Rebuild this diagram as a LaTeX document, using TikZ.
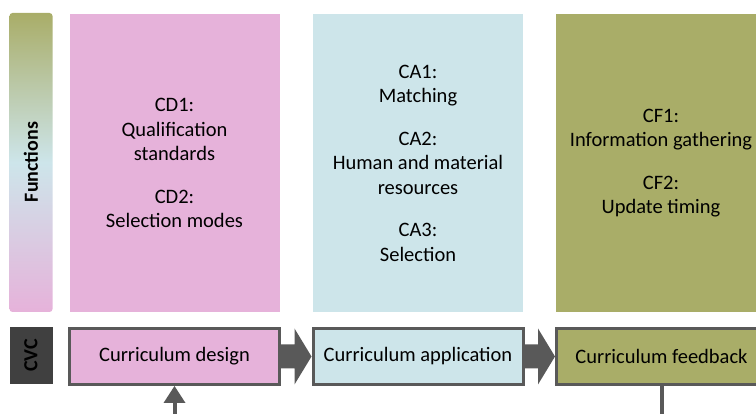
\documentclass[tikz,border=0pt]{standalone}
\usepackage{fontspec}
\setmainfont{Carlito}
\usetikzlibrary{calc}

\definecolor{cdpink}{RGB}{230,178,218}
\definecolor{cablue}{RGB}{205,229,234}
\definecolor{cfolive}{RGB}{169,173,104}
\definecolor{edgegray}{RGB}{89,89,89}
\definecolor{cvcgray}{RGB}{64,64,64}

\begin{document}
\begin{tikzpicture}[x=1pt, y=-1pt,
    column/.style={minimum width=210pt, minimum height=298pt, inner sep=0pt,
        align=center, font=\fontsize{20.5}{24.5}\selectfont},
    stage/.style={draw=edgegray, line width=3pt, minimum width=210pt,
        minimum height=56pt, inner sep=0pt, font=\fontsize{20.5}{24}\selectfont},
    sidelabel/.style={rotate=90, font=\fontsize{20}{22}\selectfont\bfseries},
    loopline/.style={edgegray, line width=4pt}]
    \useasboundingbox (0,0) rectangle (756,414);
    \clip (0,0) rectangle (756,414);

    % Side labels
    \shade[top color=cfolive, bottom color=cdpink, middle color=cablue, rounded corners=3pt]
        (9.5,13) rectangle (52.5,312);
    \node[sidelabel] (functions) at (31,162) {Functions};
    \fill[cvcgray] (9.5,327) rectangle (52.5,384);
    \node[sidelabel] (cvc) at (31,355.5) {CVC};

    % Function columns
    \node[column, fill=cdpink] (dcol) at (174.5,163)
        {CD1:\\Qualification\\standards\\[18pt]CD2:\\Selection modes};
    \node[column, fill=cablue] (acol) at (418,163)
        {CA1:\\Matching\\[18pt]CA2:\\Human and material\\resources\\[18pt]CA3:\\Selection};
    \node[column, fill=cfolive] (fcol) at (661,163)
        {CF1:\\Information gathering\\[18pt]CF2:\\Update timing};

    % Stages
    \node[stage, fill=cdpink] (dbox) at (174.5,356.5) {Curriculum design};
    \node[stage, fill=cablue] (abox) at (418,356.5) {Curriculum application};
    \node[stage, fill=cfolive] (fbox) at (661.5,356.5) {Curriculum feedback};

    % Block arrows between stages
    \foreach \a/\b in {dbox/abox, abox/fbox}
        \fill[edgegray] ($(\a.east)+(0,-12)$) -- ($(\b.west)+(-17,-12)$)
            -- ($(\b.west)+(-17,-28)$) -- (\b.west) -- ($(\b.west)+(-17,28)$)
            -- ($(\b.west)+(-17,12)$) -- ($(\a.east)+(0,12)$) -- cycle;

    % Feedback loop ends
    \coordinate (loopin) at (174.5,420);
    \coordinate (loopout) at (662,420);
    \draw[loopline] (loopin) -- ($(dbox.south)+(0,16)$);
    \fill[edgegray] ($(dbox.south)+(-11,17)$) -- (dbox.south) -- ($(dbox.south)+(11,17)$) -- cycle;
    \draw[loopline] (fbox.south -| loopout) -- (loopout);
\end{tikzpicture}
\end{document}
